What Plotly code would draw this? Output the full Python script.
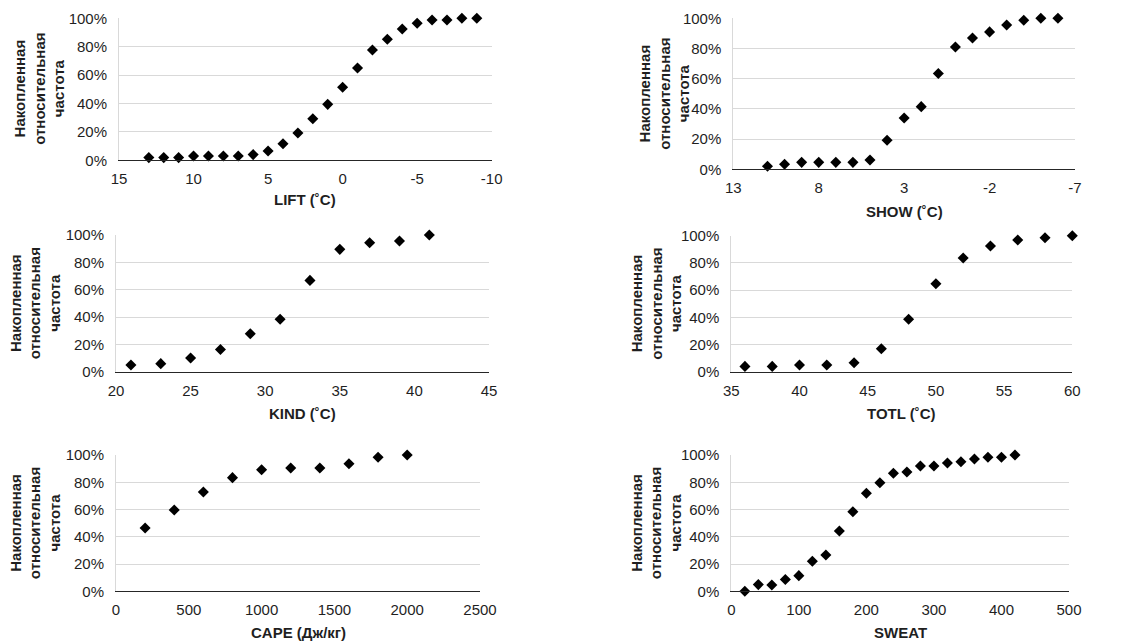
import plotly.graph_objects as go

W, H = 1131, 641

lift_x = [13, 12, 11, 10, 9, 8, 7, 6, 5, 4, 3, 2, 1, 0, -1, -2, -3, -4, -5, -6, -7, -8, -9]
lift_y = [1.9, 1.9, 1.9, 3.0, 3.0, 3.0, 3.0, 4.0, 6.6, 11.7, 19.2, 29.3, 39.4, 51.4, 65.0, 77.7, 85.2, 92.5, 96.5, 98.8, 98.8, 100, 100]
lift_ticks = [15, 10, 5, 0, -5, -10]

show_x = [11, 10, 9, 8, 7, 6, 5, 4, 3, 2, 1, 0, -1, -2, -3, -4, -5, -6]
show_y = [2.0, 3.3, 4.6, 4.6, 4.6, 4.6, 6.2, 19.2, 34.0, 41.5, 63.4, 81.0, 87.0, 91.0, 95.6, 98.7, 100, 100]
show_ticks = [13, 8, 3, -2, -7]

kind_x = [21, 23, 25, 27, 29, 31, 33, 35, 37, 39, 41]
kind_y = [4.9, 5.9, 10.0, 16.3, 27.8, 38.3, 66.8, 89.5, 94.4, 95.6, 100]
kind_ticks = [20, 25, 30, 35, 40, 45]

totl_x = [36, 38, 40, 42, 44, 46, 48, 50, 52, 54, 56, 58, 60]
totl_y = [3.9, 3.9, 4.9, 4.9, 6.6, 16.9, 38.5, 64.7, 83.6, 92.4, 96.8, 98.5, 100]
totl_ticks = [35, 40, 45, 50, 55, 60]

cape_x = [200, 400, 600, 800, 1000, 1200, 1400, 1600, 1800, 2000]
cape_y = [46.5, 59.7, 72.9, 83.4, 89.2, 90.5, 90.5, 93.6, 98.3, 100]
cape_ticks = [0, 500, 1000, 1500, 2000, 2500]

sweat_x = [20, 40, 60, 80, 100, 120, 140, 160, 180, 200, 220, 240, 260, 280, 300, 320, 340, 360, 380, 400, 420]
sweat_y = [0.0, 4.9, 4.6, 8.6, 11.5, 22.0, 26.7, 44.3, 58.4, 71.9, 79.7, 86.6, 87.5, 91.9, 91.9, 94.1, 95.1, 97.0, 98.3, 98.3, 100]
sweat_ticks = [0, 100, 200, 300, 400, 500]

y_ticks = [0, 0.2, 0.4, 0.6, 0.8, 1.0]
y_ticktext = ["0%", "20%", "40%", "60%", "80%", "100%"]

x_titles = ["LIFT (˚C)", "SHOW (˚C)", "KIND (˚C)", "TOTL (˚C)", "CAPE (Дж/кг)", "SWEAT"]
y_title = "Накопленная<br>относительная<br>частота"

panels = [
    dict(x=lift_x, y=lift_y, ticks=lift_ticks,
         box=(119, 491.7, 18.3, 160.3), tlab_y=199, ytit_x=39.5),
    dict(x=show_x, y=show_y, ticks=show_ticks,
         box=(733.3, 1075, 18.3, 169.3), tlab_y=211, ytit_x=664),
    dict(x=kind_x, y=kind_y, ticks=kind_ticks,
         box=(116, 489, 235, 371.7), tlab_y=413, ytit_x=35),
    dict(x=totl_x, y=totl_y, ticks=totl_ticks,
         box=(731.3, 1072.3, 235.7, 371.7), tlab_y=413, ytit_x=656),
    dict(x=cape_x, y=cape_y, ticks=cape_ticks,
         box=(116, 480, 455, 591.3), tlab_y=632, ytit_x=35),
    dict(x=sweat_x, y=sweat_y, ticks=sweat_ticks,
         box=(731.3, 1069, 455, 591.3), tlab_y=632, ytit_x=656),
]

FONT = "Liberation Sans, Arial, sans-serif"
TXT = "#1f1f1f"


def px(v):
    return v / W


def py(v):
    return 1 - v / H


fig = go.Figure()
layout = dict(
    width=W, height=H,
    margin=dict(l=0, r=0, t=0, b=0, pad=0, autoexpand=False),
    paper_bgcolor="white", plot_bgcolor="white",
    showlegend=False,
    font=dict(family=FONT, size=15, color=TXT),
)
annotations = []

for i, p in enumerate(panels):
    k = "" if i == 0 else str(i + 1)
    x0, x1, ytop, ybot = p["box"]
    fig.add_trace(go.Scatter(
        x=p["x"], y=[v / 100 for v in p["y"]], mode="markers",
        marker=dict(symbol="diamond", size=8.5, color="black"),
        xaxis="x" + k, yaxis="y" + k, cliponaxis=False,
    ))
    tv = p["ticks"]
    layout["xaxis" + k] = dict(
        domain=[px(x0), px(x1)], anchor="y" + k,
        range=[tv[0], tv[-1]],
        tickmode="array", tickvals=tv, ticktext=[str(t) for t in tv],
        showgrid=False, zeroline=False, automargin=False,
        showline=True, linecolor="#262626", linewidth=1,
        ticks="outside", ticklen=5, tickcolor="rgba(0,0,0,0)",
        tickfont=dict(family=FONT, size=15, color=TXT),
    )
    layout["yaxis" + k] = dict(
        domain=[py(ybot), py(ytop)], anchor="x" + k,
        range=[0, 1], tickmode="array", tickvals=y_ticks, ticktext=y_ticktext,
        showgrid=True, gridcolor="#d9d9d9", gridwidth=1,
        zeroline=False, automargin=False,
        showline=True, linecolor="#d9d9d9", linewidth=1,
        ticks="outside", ticklen=8, tickcolor="rgba(0,0,0,0)",
        tickfont=dict(family=FONT, size=15, color=TXT),
    )
    annotations.append(dict(
        text="<b>" + x_titles[i] + "</b>", xref="paper", yref="paper",
        x=px((x0 + x1) / 2), y=py(p["tlab_y"]),
        xanchor="center", yanchor="middle", showarrow=False,
        font=dict(family=FONT, size=15, color=TXT),
    ))
    annotations.append(dict(
        text="<b>" + y_title + "</b>", xref="paper", yref="paper",
        x=px(p["ytit_x"]), y=py((ytop + ybot) / 2),
        xanchor="center", yanchor="middle", showarrow=False, textangle=-90,
        font=dict(family=FONT, size=15, color=TXT),
    ))

layout["annotations"] = annotations
fig.update_layout(**layout)
fig.write_html("out.html")
